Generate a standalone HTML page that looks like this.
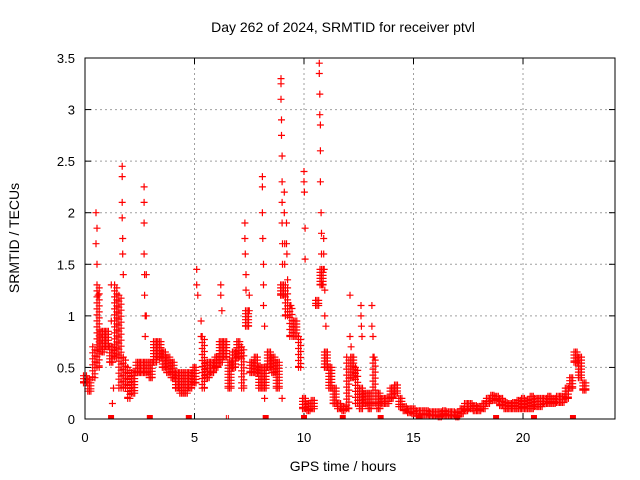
<!DOCTYPE html>
<html><head><meta charset="utf-8"><style>
body{margin:0;background:#fff}
svg{display:block;font-family:"Liberation Sans",sans-serif}
</style></head><body>
<svg id="chart" width="640" height="480" viewBox="0 0 640 480" xmlns="http://www.w3.org/2000/svg">
<rect width="640" height="480" fill="#fff"/>
<text x="343" y="32" font-size="14" text-anchor="middle" fill="#000">Day 262 of 2024, SRMTID for receiver ptvl</text>
<text transform="translate(19,238) rotate(-90)" font-size="14" text-anchor="middle" fill="#000">SRMTID / TECUs</text>
<text x="343" y="471" font-size="14" text-anchor="middle" fill="#000">GPS time / hours</text>
<g id="grid"></g>
<g id="ticks"></g>
<g id="marks"></g>
<rect x="85" y="58" width="530" height="361" fill="none" stroke="#000" stroke-width="1"/>
</svg>
<script>
const xTicks=[0,5,10,15,20];
const yTicks=[0,0.5,1,1.5,2,2.5,3,3.5];
const yTickLabels=["0","0.5","1","1.5","2","2.5","3","3.5"];
const bandT=[0,0.2,0.4,0.6,0.8,1.0,1.2,1.4,1.6,1.8,2.0,2.2,2.4,2.6,2.8,3.0,3.2,3.4,3.6,3.8,4.0,4.2,4.4,4.6,4.8,5.0,5.4,5.6,5.8,6.0,6.2,6.4,6.6,6.8,7.0,7.2,7.4,7.6,7.8,8.0,8.2,8.4,8.6,8.8,9.0,9.2,9.4,9.6,9.8,10.0,10.2,10.4,10.6,10.8,11.0,11.2,11.4,11.6,11.8,12.0,12.2,12.4,12.6,12.8,13.0,13.2,13.4,13.6,13.8,14.0,14.2,14.4,14.6,14.8,15.0,15.2,15.4,15.6,15.8,16.0,16.2,16.4,16.6,16.8,17.0,17.2,17.4,17.6,17.8,18.0,18.2,18.4,18.6,18.8,19.0,19.2,19.4,19.6,19.8,20.0,20.2,20.4,20.6,20.8,21.0,21.2,21.4,21.6,21.8,22.0,22.2,22.4,22.6,22.8];
const bandLo=[.35,.27,.4,.5,.65,.7,.55,.6,.3,.3,.2,.25,.45,.45,.45,.4,.55,.6,.5,.45,.4,.3,.25,.25,.3,.35,.3,.4,.45,.5,.55,.6,.3,.5,.6,.3,.9,.45,.45,.3,.3,.5,.45,.3,1.2,1.0,.8,.8,.5,.1,.08,.1,1.1,1.3,.5,.3,.15,.1,.08,.1,.4,.15,.1,.15,.1,.15,.1,.15,.15,.2,.25,.12,.08,.06,.05,.03,.04,.04,.03,.03,.02,.03,.03,.03,.02,.05,.08,.1,.08,.08,.1,.15,.18,.18,.13,.1,.1,.1,.1,.1,.1,.1,.12,.12,.15,.15,.15,.16,.16,.2,.3,.55,.4,.28];
const bandHi=[.42,.38,.7,1.3,.85,.85,.7,1.3,1.2,.6,.5,.45,.55,.55,.55,.55,.75,.75,.65,.6,.55,.45,.45,.45,.45,.5,.8,.55,.55,.6,.75,.75,.55,.65,.75,.7,1.05,.55,.6,.5,.5,.65,.6,.55,1.3,1.3,1.1,.95,.8,.2,.15,.18,1.15,1.45,.65,.5,.3,.15,.12,.6,.6,.5,.3,.25,.25,.6,.25,.2,.2,.3,.33,.2,.12,.1,.1,.08,.08,.08,.07,.07,.07,.08,.07,.07,.06,.1,.15,.15,.13,.12,.15,.2,.23,.22,.2,.16,.15,.16,.18,.2,.18,.22,.2,.2,.2,.22,.2,.22,.22,.3,.4,.65,.6,.35];
const spikeT=[0.5,0.5,0.55,0.55,0.6,1.2,1.2,1.25,1.3,1.7,1.7,1.7,1.7,1.72,1.72,1.75,2.7,2.7,2.7,2.7,2.72,2.72,2.75,2.75,2.8,2.8,5.1,5.1,5.15,5.3,5.3,6.2,6.2,6.25,7.3,7.3,7.32,7.35,7.35,7.5,7.5,8.1,8.1,8.1,8.12,8.15,8.15,8.15,8.2,8.2,8.95,8.95,8.95,8.97,8.97,9.0,9.0,9.0,9.0,9.02,9.02,9.1,9.1,9.12,9.12,9.2,9.2,9.22,9.25,9.4,9.0,10.0,10.0,10.02,10.05,10.05,10.7,10.7,10.72,10.72,10.75,10.75,10.75,10.78,10.8,10.8,10.82,10.9,10.9,10.92,10.95,10.95,11.0,12.1,12.1,12.15,12.6,12.6,12.62,12.65,13.1,13.1,13.15,13.2];
const spikeV=[1.7,2.0,1.85,1.5,1.2,1.3,0.95,0.15,0.3,2.45,2.35,2.1,1.95,1.75,1.6,1.4,2.25,2.1,1.9,1.6,1.4,1.2,1.0,0.8,1.4,1.0,1.45,1.3,1.2,0.95,0.8,1.3,1.2,1.05,1.9,1.75,1.6,1.4,1.25,1.2,1.05,2.35,2.25,2.0,1.75,1.5,1.3,1.1,0.9,0.2,3.3,3.25,3.1,2.9,2.75,2.55,2.3,2.1,1.9,1.7,1.5,2.2,2.0,1.7,1.5,1.9,1.7,1.6,1.35,1.1,0.2,2.4,2.3,2.2,1.85,1.55,3.45,3.35,3.15,2.95,2.85,2.6,2.3,2.0,1.8,1.6,1.3,1.75,1.6,1.45,1.25,1.0,0.9,1.2,0.8,0.7,1.1,1.0,0.9,0.8,1.1,0.9,0.8,0.6];
const zeroT=[1.19,2.96,4.74,8.25,10.0,11.77,13.5,15.28,17.0,18.77,20.5,22.28];
const zeroBlackT=[6.5];

const X0=85,X1=615,Y0=419,Y1=58,XMAX=24.2,YMAX=3.5;
const sx=t=>X0+(X1-X0)*t/XMAX;
const sy=v=>Y0-(Y0-Y1)*v/YMAX;
const NS="http://www.w3.org/2000/svg";
function mk(tag,attrs,parent){const e=document.createElementNS(NS,tag);for(const k in attrs)e.setAttribute(k,attrs[k]);parent.appendChild(e);return e;}
const grid=document.getElementById('grid'),ticks=document.getElementById('ticks'),marks=document.getElementById('marks');
xTicks.forEach(t=>{const x=sx(t);
 if(t>0){const g=mk('line',{x1:x,y1:Y1,x2:x,y2:Y0,stroke:'#a0a0a0','stroke-dasharray':'2,3'},grid);
 
 }
 mk('line',{x1:x,y1:Y0,x2:x,y2:Y0-6,stroke:'#000'},ticks);
 mk('line',{x1:x,y1:Y1,x2:x,y2:Y1+6,stroke:'#000'},ticks);
 const l=mk('text',{x:x,y:Y0+23,'font-size':13,'text-anchor':'middle'},ticks);
 
 
 l.textContent=String(t);});
yTicks.forEach((v,i)=>{const y=sy(v);
 if(v>0&&v<YMAX){const g=mk('line',{x1:X0,y1:y,x2:X1,y2:y,stroke:'#a0a0a0','stroke-dasharray':'2,3'},grid);
 
 }
 mk('line',{x1:X0,y1:y,x2:X0+6,y2:y,stroke:'#000'},ticks);
 mk('line',{x1:X1,y1:y,x2:X1-6,y2:y,stroke:'#000'},ticks);
 const l=mk('text',{x:X0-10,y:y+5,'font-size':13,'text-anchor':'end'},ticks);
 
 
 l.textContent=yTickLabels[i];});
let d='';
const plus=(x,y)=>{d+=`M${(x-3.5).toFixed(1)} ${y.toFixed(1)}h7M${x.toFixed(1)} ${(y-3.5).toFixed(1)}v7`;};
bandT.forEach((t,i)=>{
 const yl=sy(bandLo[i]),yh=sy(bandHi[i]);
 const tall=(yl-yh)>30;
 const step=tall?6:3;
 const cols=tall?[-0.05,0.05]:[-0.07,0,0.07];
 cols.forEach((dt,k)=>{const x=sx(t+dt);
  for(let y=yh+(tall?k*3:0);y<=yl+0.01;y+=step)plus(x,y);
  plus(x,yl);});
});
spikeT.forEach((t,i)=>plus(sx(t),sy(spikeV[i])));
const p=mk('path',{d:d,stroke:'#ff0000','stroke-width':1.2,fill:'none'},marks);


zeroT.forEach(t=>{const r=mk('rect',{x:sx(t)-3,y:Y0-4,width:6,height:4,fill:'#ff0000'},marks);
 
 });
zeroBlackT.forEach(t=>{const r=mk('path',{d:`M${sx(t)-1} ${Y0-4}v4M${sx(t)+1} ${Y0-4}v4`,stroke:'#ff0000'},marks);
 
 });
</script>
</body></html>
